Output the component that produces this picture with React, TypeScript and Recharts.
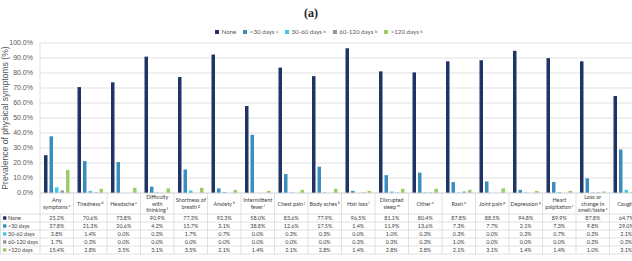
import React from "react";
import { BarChart, Bar, XAxis, YAxis, CartesianGrid } from "recharts";

const categoryLines: string[][] = [
  ["Any", "symptoms"],
  ["Tiredness"],
  ["Headache"],
  ["Difficulty", "with", "thinking"],
  ["Shortness of", "breath"],
  ["Anxiety"],
  ["Intermittent", "fever"],
  ["Chest pain"],
  ["Body aches"],
  ["Hair loss"],
  ["Disrupted", "sleep"],
  ["Other"],
  ["Rash"],
  ["Joint pain"],
  ["Depression"],
  ["Heart", "palpitation"],
  ["Loss or", "change in", "smell/taste"],
  ["Cough"],
];
const categorySups = ["c", "d", "e", "f", "g", "h", "i", "j", "k", "l", "m", "n", "o", "p", "q", "r", "s", "t"];

const noneValues = [25.2, 70.6, 73.8, 90.9, 77.3, 92.3, 58.0, 83.6, 77.9, 96.5, 81.1, 80.4, 87.8, 88.5, 94.8, 89.9, 87.8, 64.7];
const under30Values = [37.8, 21.3, 20.6, 4.2, 15.7, 3.1, 38.8, 12.6, 17.5, 1.4, 11.9, 13.6, 7.3, 7.7, 2.1, 7.3, 9.8, 29.0];
const d30to60Values = [3.8, 1.4, 0.0, 0.3, 1.7, 0.7, 0.0, 0.3, 0.3, 0.0, 1.0, 0.3, 0.3, 0.0, 0.3, 0.7, 0.3, 2.1];
const d60to120Values = [1.7, 0.3, 0.0, 0.0, 0.0, 0.0, 0.0, 0.0, 0.0, 0.3, 0.3, 0.3, 1.0, 0.0, 0.0, 0.0, 0.3, 0.3];
const over120Values = [15.4, 2.8, 3.5, 3.1, 3.5, 2.1, 1.4, 2.1, 2.8, 1.4, 2.8, 2.8, 2.1, 3.1, 1.4, 1.4, 1.0, 3.1];

const seriesKeys = ["none", "under30", "d30to60", "d60to120", "over120"];
const seriesNames = ["None", "<30 days", "30-60 days", "60-120 days", ">120 days"];
const seriesSups = ["", "a", "b", "b", "b"];
const seriesColors = ["#1f3465", "#3b8dbf", "#3fcbe6", "#8e98a3", "#9ccb67"];
const seriesValues = [noneValues, under30Values, d30to60Values, d60to120Values, over120Values];

const yTicks = [0, 10, 20, 30, 40, 50, 60, 70, 80, 90, 100];

const data = categoryLines.map((lines, i) => {
  const row: Record<string, any> = { name: lines.join(" "), index: i };
  seriesKeys.forEach((k, s) => (row[k] = seriesValues[s][i]));
  return row;
});

const CHART_W = 660;
const CHART_H = 261;
const Y_W = 40;
const RIGHT = 17;
const BAND = (CHART_W - Y_W - RIGHT) / categoryLines.length;
const HEAD_H = 21;
const ROW_H = 8;
const LINE = "#d9d9d9";
const TEXT = "#404040";
const TFONT = "Lato, 'Open Sans', sans-serif";
const AFONT = "'Liberation Sans', Arial, sans-serif";

function TableTick(props: any) {
  const { x, y, payload } = props;
  const i = payload.index;
  const left = x - BAND / 2;
  const lines = categoryLines[i];
  const lh = 6.2;
  const firstY = y + HEAD_H / 2 - ((lines.length - 1) * lh) / 2 + 2;
  const rowYs = [0, 1, 2, 3, 4, 5].map((r) => y + HEAD_H + r * ROW_H);
  return (
    <g fontFamily={TFONT} fill={TEXT}>
      <line x1={left} x2={left} y1={y} y2={rowYs[5]} stroke={LINE} strokeWidth={0.8} />
      {rowYs.map((ry, r) => (
        <line key={r} x1={left} x2={left + BAND} y1={ry} y2={ry} stroke={LINE} strokeWidth={0.8} />
      ))}
      <text textAnchor="middle" fontSize={5.5}>
        {lines.map((ln, k) => (
          <tspan key={k} x={x} y={firstY + k * lh}>
            {ln}
            {k === lines.length - 1 && (
              <tspan fontSize={3.8} dy={-2}>
                {" " + categorySups[i]}
              </tspan>
            )}
          </tspan>
        ))}
      </text>
      {seriesValues.map((vals, s) => (
        <text key={s} x={x} y={rowYs[s] + 6} textAnchor="middle" fontSize={5.4}>
          {vals[i].toFixed(1) + "%"}
        </text>
      ))}
      {i === 0 && (
        <g>
          <line x1={0.5} x2={0.5} y1={rowYs[0]} y2={rowYs[5]} stroke={LINE} strokeWidth={0.8} />
          {rowYs.map((ry, r) => (
            <line key={r} x1={0} x2={left} y1={ry} y2={ry} stroke={LINE} strokeWidth={0.8} />
          ))}
          {seriesNames.map((n, s) => (
            <g key={s}>
              <rect x={3} y={rowYs[s] + 2.3} width={3.4} height={3.4} fill={seriesColors[s]} />
              <text x={8} y={rowYs[s] + 6} fontSize={5.4} textAnchor="start">
                {n}
              </text>
            </g>
          ))}
        </g>
      )}
    </g>
  );
}

function LegendBox() {
  return (
    <div
      style={{
        position: "absolute",
        top: 28,
        left: 215,
        display: "flex",
        gap: 7,
        fontFamily: TFONT,
        fontSize: 6.2,
        color: "#595959",
        whiteSpace: "nowrap",
      }}
    >
      {seriesNames.map((n, s) => (
        <span key={s} style={{ display: "flex", alignItems: "center" }}>
          <span style={{ width: 4, height: 4, background: seriesColors[s], marginRight: 2.5, display: "inline-block" }} />
          {n}
          {seriesSups[s] && <sup style={{ fontSize: 4, marginLeft: 1.5, lineHeight: 0 }}>{seriesSups[s]}</sup>}
        </span>
      ))}
    </div>
  );
}

export default function App() {
  return (
    <div style={{ position: "absolute", left: 0, top: 0, width: 632, height: 261, overflow: "hidden", background: "#fff" }}>
      <div
        style={{
          position: "absolute",
          top: 6,
          left: 304,
          fontFamily: "'Liberation Serif', 'DejaVu Serif', serif",
          fontWeight: "bold",
          fontSize: 12,
          color: "#222",
        }}
      >
        (a)
      </div>
      <LegendBox />
      <div style={{ position: "absolute", top: 0, left: 0 }}>
        <BarChart
          width={CHART_W}
          height={CHART_H}
          data={data}
          margin={{ top: 43, right: RIGHT, bottom: 0, left: 0 }}
          barGap={2}
          barCategoryGap="12%"
        >
          <CartesianGrid vertical={false} stroke={LINE} strokeWidth={0.8} />
          <XAxis
            dataKey="name"
            height={68}
            interval={0}
            tickLine={false}
            tickSize={0}
            tickMargin={0}
            axisLine={{ stroke: LINE, strokeWidth: 0.8 }}
            tick={<TableTick />}
          />
          <YAxis
            width={Y_W}
            domain={[0, 100]}
            ticks={yTicks}
            interval={0}
            tickLine={false}
            tickSize={0}
            axisLine={{ stroke: LINE, strokeWidth: 0.8 }}
            tickMargin={7}
            tickFormatter={(v: number) => v.toFixed(1) + "%"}
            tick={{ fontSize: 7, fill: "#595959", fontFamily: AFONT }}
          />
          {seriesKeys.map((k, s) => (
            <Bar key={k} dataKey={k} fill={seriesColors[s]} barSize={3.5} isAnimationActive={false} />
          ))}
        </BarChart>
      </div>
      <div
        style={{
          position: "absolute",
          left: -75,
          top: 112,
          width: 160,
          height: 12,
          lineHeight: "12px",
          textAlign: "center",
          transform: "rotate(-90deg)",
          fontFamily: AFONT,
          fontSize: 8.6,
          color: "#595959",
          whiteSpace: "nowrap",
        }}
      >
        Prevalence of physical symptoms (%)
      </div>
    </div>
  );
}
